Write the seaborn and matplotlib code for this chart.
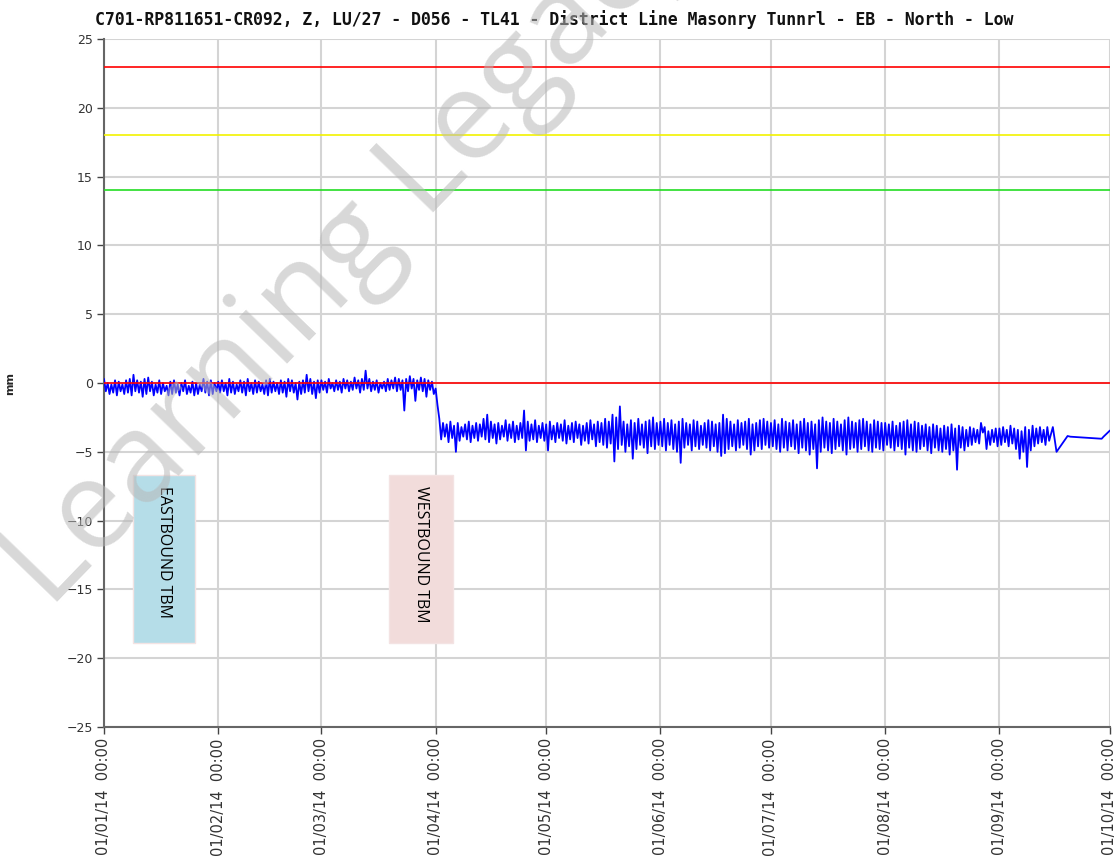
import pandas as pd
import matplotlib
matplotlib.use("Agg")
import matplotlib.pyplot as plt
import matplotlib.dates as mdates
from matplotlib.patches import Rectangle
import seaborn as sns

# daily upper / lower readings (mm)
jan_hi = [0.3, 0.0, -0.1, 0.2, 0.1, -0.1, 0.2, 0.3, 0.6, 0.2, 0.1, 0.3, 0.4, 0.1, -0.1, 0.2,
          0.0, -0.2, 0.1, 0.2, -0.1, 0.0, 0.2, -0.2, 0.1, 0.0, -0.1, 0.3, 0.1, 0.2, 0.0]
jan_lo = [-0.6, -0.8, -0.7, -0.9, -0.6, -0.8, -0.7, -0.9, -0.6, -0.7, -1.0, -0.8, -0.6, -0.9, -0.7, -0.8,
          -0.6, -0.9, -0.8, -0.7, -0.9, -0.6, -0.8, -0.7, -0.9, -0.8, -0.6, -0.7, -0.9, -0.8, -0.6]
feb_hi = [0.1, 0.2, 0.0, 0.3, 0.1, -0.1, 0.2, 0.1, 0.3, 0.0, 0.2, 0.1, -0.1, 0.2,
          0.3, 0.1, 0.0, 0.2, 0.1, 0.3, 0.2, 0.0, 0.1, 0.2, 0.6, 0.3, 0.1, 0.2]
feb_lo = [-0.7, -0.6, -0.9, -0.7, -0.8, -0.6, -0.7, -0.9, -0.6, -0.8, -0.7, -0.6, -0.8, -0.9,
          -0.7, -0.6, -0.8, -0.7, -1.0, -0.6, -0.7, -1.2, -0.8, -0.7, -0.6, -0.8, -1.1, -0.7]
mar_hi = [0.2, 0.1, 0.3, 0.0, 0.2, 0.1, 0.3, 0.2, 0.1, 0.4, 0.2, 0.3, 0.9, 0.3, 0.1, 0.2,
          0.0, 0.1, 0.3, 0.2, 0.4, 0.3, 0.2, 0.3, 0.5, 0.3, 0.2, 0.4, 0.3, 0.2, 0.1]
mar_lo = [-0.5, -0.7, -0.4, -0.6, -0.5, -0.7, -0.4, -0.6, -0.5, -0.4, -0.7, -0.5, -0.4, -0.6, -0.5, -0.7,
          -0.4, -0.6, -0.5, -0.4, -0.6, -0.5, -2.0, -0.6, -0.4, -1.3, -0.5, -0.6, -1.0, -0.5, -0.8]
apr_hi = [-0.4, -2.6, -2.9, -3.0, -2.8, -3.1, -2.9, -3.2, -3.0, -2.8, -3.1, -2.9, -3.0, -2.6, -2.3,
          -2.8, -3.0, -2.9, -3.1, -2.7, -3.0, -2.8, -3.1, -2.9, -2.0, -2.8, -3.0, -2.7, -3.1, -2.9]
apr_lo = [-1.6, -4.1, -3.9, -4.3, -4.0, -5.0, -4.2, -3.9, -4.1, -4.3, -4.0, -4.2, -3.9, -4.1, -4.3,
          -4.0, -4.4, -4.1, -3.9, -4.2, -4.0, -4.3, -4.1, -4.0, -4.9, -4.2, -4.1, -4.3, -4.0, -4.2]
may_hi = [-3.0, -2.8, -3.1, -2.9, -3.0, -2.7, -3.1, -2.9, -2.8, -3.0, -3.1, -2.9, -2.7, -3.0, -2.8, -2.9,
          -2.6, -2.8, -2.3, -2.5, -1.7, -2.8, -3.0, -2.7, -2.9, -2.6, -3.0, -2.8, -2.7, -2.5, -2.9]
may_lo = [-4.9, -4.1, -4.3, -4.0, -4.2, -4.4, -4.1, -4.3, -4.0, -4.5, -4.2, -4.4, -4.1, -4.6, -4.3, -4.5,
          -4.7, -4.4, -5.7, -4.8, -4.5, -5.0, -4.6, -5.5, -4.8, -4.5, -4.7, -5.1, -4.6, -4.8, -4.5]
jun_hi = [-2.8, -2.6, -2.9, -2.7, -3.0, -2.8, -2.6, -2.9, -3.0, -2.7, -2.8, -3.1, -2.9, -2.7, -2.8,
          -3.0, -2.9, -2.3, -2.6, -2.8, -3.0, -2.7, -2.9, -2.8, -2.6, -3.0, -2.9, -2.7, -2.6, -2.8]
jun_lo = [-4.6, -4.9, -4.5, -4.8, -5.0, -5.8, -4.7, -4.5, -4.9, -4.6, -4.8, -4.5, -4.7, -4.9, -4.6,
          -5.0, -5.3, -5.1, -4.8, -4.6, -4.9, -4.7, -4.5, -4.8, -5.2, -4.9, -4.6, -4.8, -4.5, -4.7]
jul_hi = [-2.9, -2.7, -3.0, -2.6, -2.8, -2.9, -2.7, -3.0, -2.8, -2.6, -2.9, -2.8, -3.0, -2.7, -2.5, -2.8,
          -2.9, -2.6, -2.8, -3.0, -2.7, -2.5, -2.8, -2.9, -2.7, -2.6, -2.8, -3.0, -2.7, -2.8, -2.9]
jul_lo = [-4.6, -4.8, -5.0, -4.7, -4.9, -4.6, -4.8, -5.1, -4.7, -4.9, -5.2, -4.8, -6.2, -5.0, -4.7, -4.9,
          -5.1, -4.8, -4.6, -4.9, -5.2, -4.8, -4.7, -5.0, -4.8, -4.6, -4.9, -5.0, -4.7, -4.8, -4.9]
aug_hi = [-2.9, -3.0, -2.8, -3.1, -2.9, -2.8, -2.7, -3.0, -2.8, -2.9, -3.1, -3.0, -3.2, -3.0, -3.1, -3.3,
          -3.1, -3.2, -3.0, -3.3, -3.1, -3.2, -3.4, -3.2, -3.3, -3.4, -2.9, -3.2, -3.5, -3.4, -3.3]
aug_lo = [-4.5, -4.7, -4.9, -4.6, -4.8, -5.2, -4.7, -4.9, -5.0, -4.8, -4.6, -4.9, -5.1, -4.7, -4.9, -5.0,
          -4.8, -5.2, -4.9, -6.3, -4.7, -4.9, -4.6, -4.5, -4.3, -4.4, -3.6, -4.8, -4.5, -4.3, -4.6]
sep_hi = [-3.3, -3.2, -3.4, -3.1, -3.3, -3.4, -3.5, -3.2, -3.4, -3.1, -3.3, -3.2, -3.4, -3.2]
sep_lo = [-4.5, -4.3, -4.6, -4.4, -4.8, -5.5, -5.0, -6.1, -4.9, -4.6, -4.4, -4.3, -4.5, -4.2]

# sparse readings at the end of the record
tail_times = ["2014-09-15 12:00", "2014-09-16 12:00", "2014-09-19 12:00", "2014-09-20 06:00",
              "2014-09-28 18:00", "2014-09-29 06:00", "2014-10-01 00:00"]
tail_vals = [-3.2, -5.0, -3.85, -3.9, -4.05, -3.9, -3.45]

# trigger levels
red_levels = [23, 0]
amber_level = 18
green_level = 14

title = "C701-RP811651-CR092, Z, LU/27 - D056 - TL41 - District Line Masonry Tunnrl - EB - North - Low"

hi = jan_hi + feb_hi + mar_hi + apr_hi + may_hi + jun_hi + jul_hi + aug_hi + sep_hi
lo = jan_lo + feb_lo + mar_lo + apr_lo + may_lo + jun_lo + jul_lo + aug_lo + sep_lo
days = pd.date_range("2014-01-01", periods=len(hi), freq="D")

df = pd.concat([
    pd.DataFrame({"time": days, "mm": hi}),
    pd.DataFrame({"time": days + pd.Timedelta(hours=12), "mm": lo}),
    pd.DataFrame({"time": pd.to_datetime(tail_times), "mm": tail_vals}),
]).sort_values("time").reset_index(drop=True)

sns.set_style("white")
fig = plt.figure(figsize=(11.17, 8.65), dpi=100)
ax = fig.add_axes([0.0931, 0.1595, 0.9006, 0.7954])

ax.grid(True, color="#d4d4d4", lw=1.5)
ax.set_axisbelow(True)

sns.lineplot(data=df, x="time", y="mm", ax=ax, color="#0000ff", lw=1.3, sort=False, zorder=3)

for lv in red_levels:
    ax.axhline(lv, color="#ff0000", lw=1.2, zorder=4)
ax.axhline(amber_level, color="#f2f200", lw=1.2, zorder=4)
ax.axhline(green_level, color="#22dd22", lw=1.2, zorder=4)

ax.set_ylim(-25, 25)
ax.set_yticks(range(-25, 26, 5))
ax.set_xlim(pd.Timestamp("2014-01-01"), pd.Timestamp("2014-10-01"))
ax.xaxis.set_major_locator(mdates.MonthLocator())
ax.xaxis.set_major_formatter(mdates.DateFormatter("%d/%m/%y  %H:%M"))
plt.setp(ax.get_xticklabels(), rotation=90)
ax.tick_params(axis="both", direction="out", length=5, width=1, color="#444444",
               labelcolor="#333333", pad=3, bottom=True, left=True)
ax.tick_params(axis="x", labelsize=10.5)
ax.tick_params(axis="y", labelsize=9)

for s in ["top", "right"]:
    ax.spines[s].set_visible(False)
for s in ["left", "bottom"]:
    ax.spines[s].set_color("#666666")
    ax.spines[s].set_linewidth(1.5)

ax.set_xlabel("")
ax.set_ylabel("mm", fontsize=8, fontweight="bold")
ax.yaxis.set_label_coords(-0.088, 0.5)
fig.text(0.496, 0.977, title, fontsize=11.9, fontweight="bold", family="DejaVu Sans Mono",
         ha="center", va="center", color="#111111")

# TBM annotation boxes
boxes = [("EASTBOUND TBM", "2014-01-08 22:00", "2014-01-25 16:00", "#b5dde8"),
         ("WESTBOUND TBM", "2014-03-19 08:00", "2014-04-05 18:00", "#f2dcdb")]
for label, x0, x1, col in boxes:
    t0 = mdates.date2num(pd.Timestamp(x0))
    t1 = mdates.date2num(pd.Timestamp(x1))
    ax.add_patch(Rectangle((t0, -18.9), t1 - t0, 12.2, facecolor=col,
                           edgecolor="#f3e3e3", lw=1, zorder=5))
    ax.text((t0 + t1) / 2, -7.5, label, rotation=270, ha="center", va="top",
            fontsize=11.5, family="Open Sans", color="black", zorder=6)

# watermark
fig.text(0.315, 0.71, "Learning Legacy", rotation=46, fontsize=90, family="Open Sans",
         color="#b8b8b8", alpha=0.55, ha="center", va="center", zorder=10)

fig.savefig("out.png", dpi=100)
